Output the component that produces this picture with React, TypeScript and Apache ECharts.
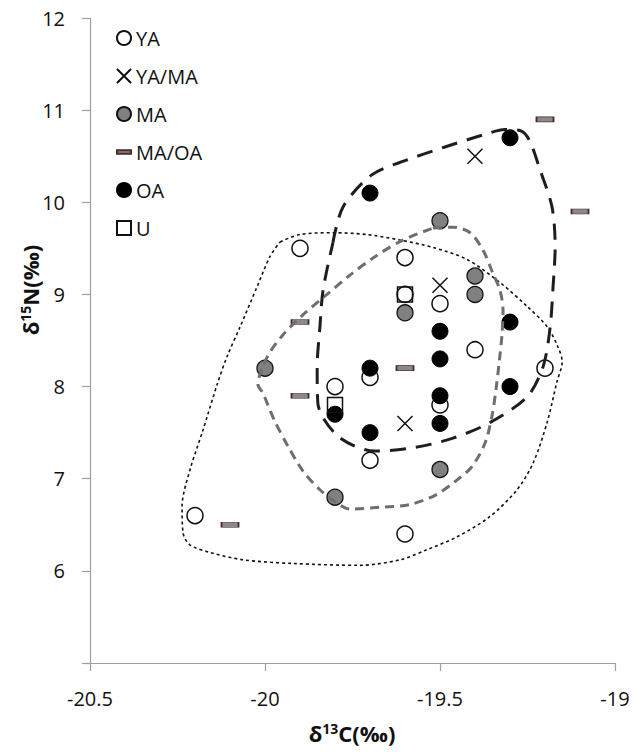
import React, { useEffect, useRef } from "react";
import * as echarts from "echarts";

// Scatter data: [δ13C, δ15N]
const YA = [[-20.2, 6.6], [-19.9, 9.5], [-19.8, 8.0], [-19.7, 8.1], [-19.7, 7.2], [-19.6, 9.4], [-19.6, 9.0], [-19.6, 6.4], [-19.5, 8.9], [-19.5, 7.8], [-19.4, 8.4], [-19.2, 8.2]];
const YA_MA = [[-19.6, 7.6], [-19.5, 9.1], [-19.4, 10.5]];
const MA = [[-20.0, 8.2], [-19.8, 6.8], [-19.6, 8.8], [-19.5, 9.8], [-19.5, 7.1], [-19.4, 9.2], [-19.4, 9.0]];
const MA_OA = [[-20.1, 6.5], [-19.9, 8.7], [-19.9, 7.9], [-19.6, 8.2], [-19.2, 10.9], [-19.1, 9.9]];
const OA = [[-19.8, 7.7], [-19.7, 10.1], [-19.7, 8.2], [-19.7, 7.5], [-19.5, 8.6], [-19.5, 8.3], [-19.5, 7.9], [-19.5, 7.6], [-19.3, 10.7], [-19.3, 8.7], [-19.3, 8.0]];
const U = [[-19.8, 7.8], [-19.6, 9.0]];

// Hand-drawn group outlines, in data units
const hullAll = [[-19.957, 9.57], [-19.9, 9.65], [-19.806, 9.67], [-19.709, 9.65], [-19.614, 9.59], [-19.52, 9.51], [-19.423, 9.38], [-19.329, 9.13], [-19.251, 8.87], [-19.194, 8.65], [-19.163, 8.43], [-19.151, 8.27], [-19.166, 8.05], [-19.194, 7.61], [-19.234, 7.17], [-19.28, 6.88], [-19.357, 6.59], [-19.451, 6.37], [-19.537, 6.23], [-19.614, 6.12], [-19.729, 6.06], [-19.92, 6.08], [-20.063, 6.12], [-20.157, 6.2], [-20.214, 6.28], [-20.234, 6.41], [-20.237, 6.7], [-20.214, 7.1], [-20.177, 7.53], [-20.137, 8.02], [-20.109, 8.32], [-20.071, 8.65], [-20.023, 9.08], [-19.986, 9.41]];
const hullMA = [[-19.52, 9.72], [-19.463, 9.73], [-19.414, 9.67], [-19.377, 9.48], [-19.349, 9.23], [-19.329, 9.05], [-19.32, 8.83], [-19.323, 8.56], [-19.331, 8.26], [-19.34, 7.97], [-19.351, 7.69], [-19.371, 7.39], [-19.409, 7.13], [-19.457, 6.97], [-19.514, 6.82], [-19.586, 6.72], [-19.671, 6.69], [-19.757, 6.67], [-19.8, 6.75], [-19.843, 6.88], [-19.891, 7.08], [-19.934, 7.35], [-19.974, 7.64], [-20.006, 7.93], [-20.02, 8.02], [-19.994, 8.32], [-19.949, 8.56], [-19.891, 8.78], [-19.823, 9.0], [-19.757, 9.21], [-19.686, 9.41], [-19.606, 9.59]];
const hullOA = [[-19.806, 9.56], [-19.777, 9.95], [-19.694, 10.3], [-19.594, 10.46], [-19.486, 10.6], [-19.377, 10.73], [-19.314, 10.79], [-19.266, 10.77], [-19.243, 10.66], [-19.214, 10.35], [-19.18, 9.95], [-19.171, 9.52], [-19.177, 9.08], [-19.186, 8.62], [-19.206, 8.21], [-19.251, 7.89], [-19.357, 7.61], [-19.463, 7.44], [-19.571, 7.34], [-19.686, 7.3], [-19.791, 7.46], [-19.849, 7.82], [-19.851, 8.21], [-19.843, 8.65], [-19.834, 9.05]];

const legendNames = ["YA", "YA/MA", "MA", "MA/OA", "OA", "U"];

const closeLoop = (pts: number[][]) => [...pts, pts[0]];

export default function App() {
  const ref = useRef<HTMLDivElement>(null);
  useEffect(() => {
    if (!ref.current) return;
    const chart = echarts.init(ref.current, null, { renderer: "svg" });
    const font = "'Open Sans', 'Liberation Sans', sans-serif";
    const hull = (name: string, data: number[][], color: string, width: number, dash: number[]) => ({
      name,
      type: "line",
      data: closeLoop(data),
      smooth: 0.3,
      symbol: "none",
      silent: true,
      z: 5,
      lineStyle: { color, width, type: dash },
    });
    chart.setOption({
      animation: false,
      grid: { left: 90, right: 20, top: 18, bottom: 89 },
      xAxis: {
        type: "value",
        min: -20.5,
        max: -19,
        interval: 0.5,
        axisLine: { show: true, onZero: false, lineStyle: { color: "#a0a0a0", width: 1.2 } },
        axisTick: { show: true, length: 8, lineStyle: { color: "#a0a0a0", width: 1.2 } },
        splitLine: { show: false },
        axisLabel: { fontFamily: font, fontSize: 20, color: "#111", margin: 25 },
      },
      yAxis: {
        type: "value",
        min: 5,
        max: 12,
        interval: 1,
        axisLine: { show: true, onZero: false, lineStyle: { color: "#a0a0a0", width: 1.2 } },
        axisTick: { show: true, length: 8, lineStyle: { color: "#a0a0a0", width: 1.2 } },
        splitLine: { show: false },
        axisLabel: {
          fontFamily: font,
          fontSize: 20,
          color: "#111",
          margin: 25,
          formatter: (v: number) => (v === 5 ? "" : String(v)),
        },
      },
      legend: {
        data: legendNames,
        orient: "vertical",
        left: 111,
        top: 23,
        itemWidth: 14,
        itemHeight: 14,
        itemGap: 18,
        textStyle: { fontFamily: font, fontSize: 20, color: "#111" },
      },
      graphic: [
        {
          type: "text",
          x: 30,
          y: 290,
          rotation: Math.PI / 2,
          style: {
            text: "{a|δ}{s|15}{a|N(‰)}",
            textAlign: "center",
            textVerticalAlign: "middle",
            fill: "#111",
            rich: {
              a: { fontFamily: font, fontSize: 22, fontWeight: "bold", fill: "#111" },
              s: { fontFamily: font, fontSize: 14, fontWeight: "bold", fill: "#111", padding: [0, 0, 10, 0] },
            },
          },
        },
        {
          type: "text",
          x: 352,
          y: 733,
          style: {
            text: "{a|δ}{s|13}{a|C(‰)}",
            textAlign: "center",
            textVerticalAlign: "middle",
            fill: "#111",
            rich: {
              a: { fontFamily: font, fontSize: 22, fontWeight: "bold", fill: "#111" },
              s: { fontFamily: font, fontSize: 14, fontWeight: "bold", fill: "#111", padding: [0, 0, 10, 0] },
            },
          },
        },
      ],
      series: [
        {
          name: "YA",
          type: "scatter",
          data: YA,
          symbol: "circle",
          symbolSize: 16,
          itemStyle: { color: "#ffffff", borderColor: "#111", borderWidth: 1.5, opacity: 1 },
        },
        {
          name: "YA/MA",
          type: "scatter",
          data: YA_MA,
          symbol: "path://M0,0L10,10M10,0L0,10",
          symbolSize: 15,
          itemStyle: { color: "rgba(0,0,0,0)", borderColor: "#111", borderWidth: 1.5, opacity: 1 },
        },
        {
          name: "MA",
          type: "scatter",
          data: MA,
          symbol: "circle",
          symbolSize: 16,
          itemStyle: { color: "#808080", borderColor: "#111", borderWidth: 1.3, opacity: 1 },
        },
        {
          name: "MA/OA",
          type: "scatter",
          data: MA_OA,
          symbol: "path://M0,0H16V4H0Z",
          symbolSize: [17, 5],
          symbolKeepAspect: false,
          itemStyle: { color: "#8a8a8a", borderColor: "#4a2a2a", borderWidth: 1, opacity: 1 },
        },
        {
          name: "OA",
          type: "scatter",
          data: OA,
          symbol: "circle",
          symbolSize: 16,
          itemStyle: { color: "#000000", borderColor: "#000", borderWidth: 1, opacity: 1 },
        },
        {
          name: "U",
          type: "scatter",
          data: U,
          symbol: "rect",
          symbolSize: 15,
          itemStyle: { color: "rgba(255,255,255,0)", borderColor: "#111", borderWidth: 1.5, opacity: 1 },
        },
        hull("all", hullAll, "#111111", 1.6, [3, 3]),
        hull("MA hull", hullMA, "#6e6e6e", 3, [9, 6]),
        hull("OA hull", hullOA, "#1e1e1e", 3, [16, 10]),
      ],
    });
    return () => chart.dispose();
  }, []);
  return (
    <div
      ref={ref}
      style={{ position: "fixed", left: 0, top: 0, width: 635, height: 752, background: "#fff" }}
    />
  );
}
